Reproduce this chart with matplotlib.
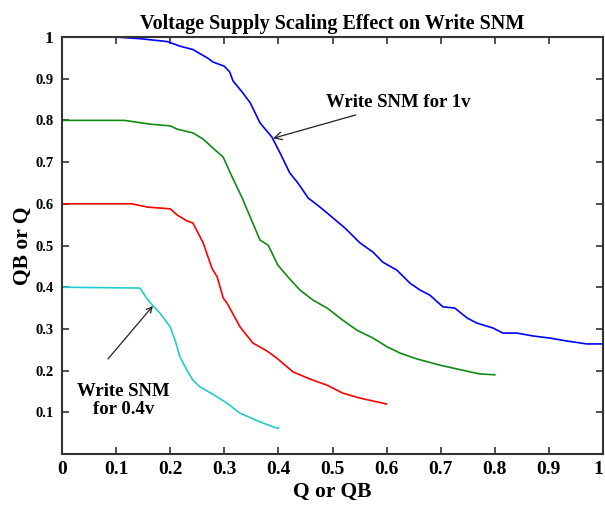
#!/usr/bin/env python3
"""
Butterfly-half curves showing how supply voltage scaling shrinks write SNM.
"""

import matplotlib
matplotlib.use('Agg')
import matplotlib.pyplot as plt

# Curve for VDD = 1.0 V
q_1v = [0, 0.098, 0.144, 0.195, 0.218, 0.242, 0.271, 0.279, 0.300, 0.310, 0.316,
        0.333, 0.348, 0.366, 0.388, 0.403, 0.421, 0.436, 0.455, 0.477, 0.501,
        0.523, 0.551, 0.575, 0.593, 0.619, 0.643, 0.662, 0.680, 0.704, 0.726,
        0.749, 0.767, 0.797, 0.815, 0.841, 0.871, 0.902, 0.933, 0.970, 1.0]
qb_1v = [1.0, 1.0, 0.996, 0.989, 0.978, 0.970, 0.948, 0.940, 0.930, 0.916, 0.895,
         0.868, 0.842, 0.794, 0.760, 0.722, 0.674, 0.650, 0.614, 0.592, 0.566,
         0.542, 0.506, 0.484, 0.460, 0.441, 0.410, 0.393, 0.381, 0.353, 0.350,
         0.326, 0.314, 0.302, 0.290, 0.290, 0.283, 0.278, 0.271, 0.264, 0.264]

# Curve for VDD = 0.8 V
q_08v = [0, 0.116, 0.163, 0.200, 0.213, 0.242, 0.261, 0.283, 0.298, 0.307, 0.311,
         0.333, 0.348, 0.366, 0.381, 0.399, 0.418, 0.440, 0.464, 0.490, 0.519,
         0.545, 0.575, 0.601, 0.625, 0.656, 0.699, 0.754, 0.773, 0.800]
qb_08v = [0.8, 0.8, 0.791, 0.787, 0.779, 0.770, 0.755, 0.729, 0.712, 0.686, 0.674,
          0.614, 0.568, 0.513, 0.501, 0.453, 0.424, 0.393, 0.369, 0.350, 0.321,
          0.297, 0.278, 0.257, 0.242, 0.228, 0.213, 0.197, 0.192, 0.190]

# Curve for VDD = 0.6 V
q_06v = [0, 0.129, 0.159, 0.200, 0.213, 0.231, 0.242, 0.261, 0.277, 0.287, 0.298,
         0.305, 0.329, 0.353, 0.379, 0.397, 0.427, 0.458, 0.490, 0.519, 0.551,
         0.593, 0.600]
qb_06v = [0.6, 0.6, 0.592, 0.588, 0.573, 0.559, 0.554, 0.506, 0.446, 0.424, 0.374,
          0.362, 0.305, 0.266, 0.247, 0.230, 0.197, 0.180, 0.165, 0.146, 0.134,
          0.122, 0.120]

# Curve for VDD = 0.4 V
q_04v = [0, 0.144, 0.159, 0.172, 0.181, 0.200, 0.209, 0.218, 0.231, 0.242, 0.255,
         0.287, 0.305, 0.329, 0.366, 0.397, 0.400]
qb_04v = [0.4, 0.398, 0.369, 0.350, 0.338, 0.305, 0.273, 0.233, 0.201, 0.177,
          0.161, 0.137, 0.122, 0.098, 0.077, 0.062, 0.062]

x_ticks = [0, 0.1, 0.2, 0.3, 0.4, 0.5, 0.6, 0.7, 0.8, 0.9, 1]
x_tick_labels = ['0', '0.1', '0.2', '0.3', '0.4', '0.5', '0.6', '0.7', '0.8', '0.9', '1']
y_ticks = [0.1, 0.2, 0.3, 0.4, 0.5, 0.6, 0.7, 0.8, 0.9, 1]
y_tick_labels = ['0.1', '0.2', '0.3', '0.4', '0.5', '0.6', '0.7', '0.8', '0.9', '1']


def main() -> None:
    plt.rcParams['font.family'] = ['Liberation Serif', 'DejaVu Serif']
    plt.rcParams['font.weight'] = 'bold'

    fig = plt.figure(figsize=(6.05, 5.07), dpi=100)
    ax = fig.add_axes([0.1025, 0.1045, 0.8942, 0.8225])

    ax.plot(q_1v, qb_1v, color='#0000ff', lw=1.2)
    ax.plot(q_08v, qb_08v, color='#128a12', lw=1.2)
    ax.plot(q_06v, qb_06v, color='#ff0000', lw=1.2)
    ax.plot(q_04v, qb_04v, color='#22cccc', lw=1.2)

    ax.set_xlim(0, 1)
    ax.set_ylim(0, 1)
    ax.set_xticks(x_ticks)
    ax.set_xticklabels(x_tick_labels)
    ax.set_yticks(y_ticks)
    ax.set_yticklabels(y_tick_labels)
    ax.tick_params(direction='in', length=5, width=1.2, top=True, right=True,
                   color='#333333')
    ax.tick_params(axis='x', labelsize=14, pad=5)
    ax.tick_params(axis='y', labelsize=10.5, pad=6)
    # keep the last x label inside the figure edge
    ax.get_xticklabels()[-1].set_ha('right')
    ax.get_yticklabels()[-1].set_fontsize(12.5)
    for spine in ax.spines.values():
        spine.set_linewidth(1.5)
        spine.set_color('#333333')

    ax.set_title('Voltage Supply Scaling Effect on Write SNM', fontsize=14.5,
                 fontweight='bold', pad=6)
    ax.set_xlabel('Q or QB', fontsize=15.5, fontweight='bold', labelpad=3)
    ax.set_ylabel('QB or Q', fontsize=15.5, fontweight='bold', labelpad=2)

    ax.annotate('Write SNM for 1v', xy=(0.390, 0.757), xytext=(0.488, 0.842),
                fontsize=13.5, fontweight='bold', ha='left', va='center',
                arrowprops=dict(arrowstyle='->', color='#222222', lw=0.9,
                                shrinkA=2, shrinkB=0))
    ax.annotate('', xy=(0.168, 0.355), xytext=(0.085, 0.228),
                arrowprops=dict(arrowstyle='->', color='#222222', lw=0.9,
                                shrinkA=0, shrinkB=0))
    ax.text(0.113, 0.129, 'Write SNM\nfor 0.4v', fontsize=13.5, fontweight='bold',
            ha='center', va='center', linespacing=1.05)

    fig.savefig('out.png', dpi=100)


if __name__ == '__main__':
    main()
